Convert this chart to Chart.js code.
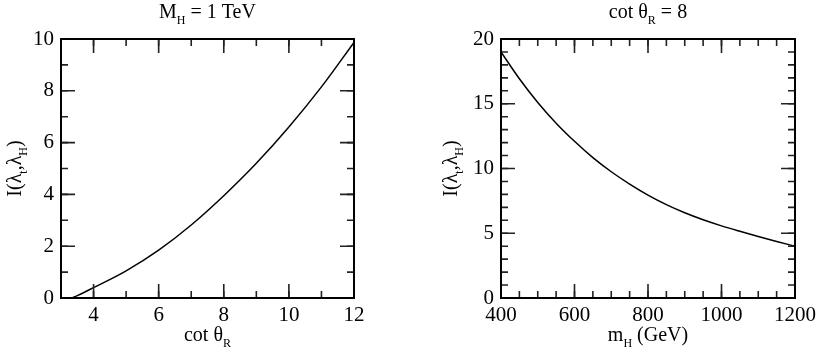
<!DOCTYPE html>
<html>
<head>
<meta charset="utf-8">
<script src="https://cdn.jsdelivr.net/npm/chart.js@4.4.1/dist/chart.umd.min.js"></script>
<style>
  html, body { margin: 0; padding: 0; background: #fff; }
  body { width: 817px; height: 351px; position: relative; overflow: hidden; }
  .box { position: absolute; top: 0; height: 351px; }
  #leftBox { left: 0; width: 408px; }
  #rightBox { left: 408px; width: 409px; }
</style>
</head>
<body>
<div class="box" id="leftBox"><canvas id="leftChart"></canvas></div>
<div class="box" id="rightBox"><canvas id="rightChart"></canvas></div>
<script>
// Left panel: M_H = 1 TeV
const leftX = [3.33, 3.5, 4, 5, 6, 7, 8, 9, 10, 11, 12];
const leftY = [0, 0.09, 0.4, 1.05, 1.85, 2.82, 3.95, 5.2, 6.6, 8.15, 9.87];
const leftXTicks = [4, 6, 8, 10, 12];
const leftYTicks = [0, 2, 4, 6, 8, 10];

// Right panel: cot theta_R = 8
const rightX = [400, 450, 500, 550, 600, 650, 700, 750, 800, 850, 900, 950, 1000, 1050, 1100, 1150, 1200];
const rightY = [19.0, 16.93, 15.1, 13.5, 12.1, 10.84, 9.75, 8.8, 7.95, 7.21, 6.58, 6.04, 5.57, 5.15, 4.75, 4.37, 4.0];
const rightXTicks = [400, 600, 800, 1000, 1200];
const rightYTicks = [0, 5, 10, 15, 20];

const SERIF = "'Liberation Serif', 'Times New Roman', serif";
const TICK_FONT = 21;
const LABEL_FONT = 20;
const SUB_FONT = 12;

// draw text made of [text, isSubscript] parts, centred on x
function drawRich(ctx, parts, x, y) {
  let total = 0;
  parts.forEach(([t, sub]) => {
    ctx.font = (sub ? SUB_FONT : LABEL_FONT) + 'px ' + SERIF;
    total += ctx.measureText(t).width;
  });
  let cx = x - total / 2;
  ctx.textAlign = 'left';
  ctx.textBaseline = 'alphabetic';
  parts.forEach(([t, sub]) => {
    ctx.font = (sub ? SUB_FONT : LABEL_FONT) + 'px ' + SERIF;
    ctx.fillText(t, cx, sub ? y + 6 : y);
    cx += ctx.measureText(t).width;
  });
}

function framePlugin(opts) {
  return {
    id: 'frame',
    afterDraw(chart) {
      const { ctx, chartArea: a, scales } = chart;
      const xs = scales.x, ys = scales.y;
      ctx.save();
      ctx.fillStyle = '#000';

      // inward ticks on all four sides
      ctx.strokeStyle = '#222';
      ctx.lineWidth = 1.6;
      const tick = (v, len, horiz) => {
        ctx.beginPath();
        if (horiz) {
          const px = xs.getPixelForValue(v);
          ctx.moveTo(px, a.bottom); ctx.lineTo(px, a.bottom - len);
          ctx.moveTo(px, a.top); ctx.lineTo(px, a.top + len);
        } else {
          const py = ys.getPixelForValue(v);
          ctx.moveTo(a.left, py); ctx.lineTo(a.left + len, py);
          ctx.moveTo(a.right, py); ctx.lineTo(a.right - len, py);
        }
        ctx.stroke();
      };
      for (let v = xs.min; v <= xs.max + 1e-9; v += opts.xMinor) tick(v, 7, true);
      for (let v = ys.min; v <= ys.max + 1e-9; v += opts.yMinor) tick(v, 7, false);
      opts.xTicks.forEach(v => tick(v, 14, true));
      opts.yTicks.forEach(v => tick(v, 14, false));

      ctx.strokeStyle = '#000';
      ctx.lineWidth = 2;
      ctx.strokeRect(a.left, a.top, a.right - a.left, a.bottom - a.top);

      const mid = (a.left + a.right) / 2;
      drawRich(ctx, opts.title, mid, 18);
      drawRich(ctx, opts.xTitle, mid, 341);

      ctx.translate(opts.yTitleX, (a.top + a.bottom) / 2);
      ctx.rotate(-Math.PI / 2);
      drawRich(ctx, opts.yTitle, 0, 0);
      ctx.restore();
    }
  };
}

function makeChart(id, xs, ys, cfg) {
  const points = xs.map((x, i) => ({ x: x, y: ys[i] }));
  const fixTicks = (list) => (scale) => { scale.ticks = list.map(v => ({ value: v })); };
  const plain = (v) => String(v);
  return new Chart(document.getElementById(id), {
    type: 'line',
    data: {
      datasets: [{
        data: points,
        borderColor: '#000',
        borderWidth: 1.5,
        pointRadius: 0,
        fill: false,
        cubicInterpolationMode: 'monotone'
      }]
    },
    options: {
      responsive: true,
      maintainAspectRatio: false,
      animation: false,
      events: [],
      layout: { padding: { left: 0, right: cfg.padRight, top: 39, bottom: 0 } },
      plugins: { legend: { display: false }, tooltip: { enabled: false }, title: { display: false } },
      scales: {
        x: {
          type: 'linear',
          min: cfg.xMin, max: cfg.xMax,
          grid: { display: false, drawTicks: false },
          border: { display: false },
          afterBuildTicks: fixTicks(cfg.xTicks),
          afterFit: (s) => { s.height = 53; s.paddingLeft = 0; s.paddingRight = 0; },
          ticks: { color: '#000', padding: 5, maxRotation: 0, autoSkip: false, callback: plain,
                   font: { family: SERIF, size: TICK_FONT } }
        },
        y: {
          type: 'linear',
          min: cfg.yMin, max: cfg.yMax,
          grid: { display: false, drawTicks: false },
          border: { display: false },
          afterBuildTicks: fixTicks(cfg.yTicks),
          afterFit: (s) => { s.width = cfg.yWidth; s.paddingTop = 0; s.paddingBottom = 0; },
          ticks: { color: '#000', padding: 7, autoSkip: false, callback: plain,
                   font: { family: SERIF, size: TICK_FONT } }
        }
      }
    },
    plugins: [framePlugin(cfg)]
  });
}

makeChart('leftChart', leftX, leftY, {
  xMin: 3, xMax: 12, yMin: 0, yMax: 10,
  xTicks: leftXTicks, yTicks: leftYTicks, xMinor: 1, yMinor: 1,
  yWidth: 61, padRight: 54, yTitleX: 21,
  title: [['M', false], ['H', true], [' = 1 TeV', false]],
  xTitle: [['cot θ', false], ['R', true]],
  yTitle: [['I(λ', false], ['t', true], [',λ', false], ['H', true], [')', false]]
});

makeChart('rightChart', rightX, rightY, {
  xMin: 400, xMax: 1200, yMin: 0, yMax: 20,
  xTicks: rightXTicks, yTicks: rightYTicks, xMinor: 50, yMinor: 1,
  yWidth: 93, padRight: 22, yTitleX: 49,
  title: [['cot θ', false], ['R', true], [' = 8', false]],
  xTitle: [['m', false], ['H', true], [' (GeV)', false]],
  yTitle: [['I(λ', false], ['t', true], [',λ', false], ['H', true], [')', false]]
});
</script>
</body>
</html>
